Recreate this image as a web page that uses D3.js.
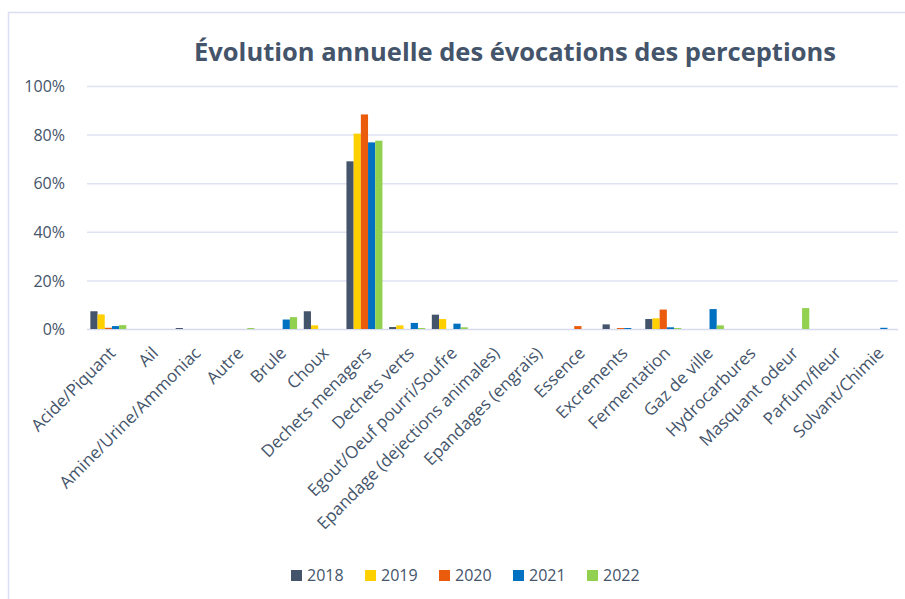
<!DOCTYPE html>
<html>
<head>
<meta charset="utf-8">
<script src="https://cdn.jsdelivr.net/npm/d3@7"></script>
<style>
  body { margin: 0; background: #fff; }
  svg { display: block; }
</style>
</head>
<body>
<div id="chart"></div>
<script>
// data
const categories = [
  'Acide/Piquant', 'Ail', 'Amine/Urine/Ammoniac', 'Autre', 'Brule', 'Choux',
  'Dechets menagers', 'Dechets verts', 'Egout/Oeuf pourri/Soufre',
  'Epandage (dejections animales)', 'Epandages (engrais)', 'Essence',
  'Excrements', 'Fermentation', 'Gaz de ville', 'Hydrocarbures',
  'Masquant odeur', 'Parfum/fleur', 'Solvant/Chimie'
];
const years = ['2018', '2019', '2020', '2021', '2022'];
const colors = ['#44546a', '#ffd000', '#ea5b0c', '#0070c0', '#92d050'];

// values in %, one array per year, same order as categories
const v2018 = [7.3, 0, 0.4, 0, 0, 7.3, 69.0, 0.8, 5.9, 0, 0, 0, 1.9, 4.1, 0, 0, 0, 0, 0];
const v2019 = [6.0, 0, 0, 0, 0, 1.5, 80.4, 1.5, 4.1, 0, 0, 0, 0, 4.4, 0, 0, 0, 0, 0];
const v2020 = [0.5, 0, 0, 0, 0, 0, 88.3, 0, 0, 0, 0, 1.2, 0.4, 8.0, 0, 0, 0, 0, 0];
const v2021 = [1.2, 0, 0, 0, 3.9, 0, 76.8, 2.5, 2.2, 0, 0, 0, 0.4, 0.7, 8.2, 0, 0, 0, 0.5];
const v2022 = [1.6, 0, 0, 0.4, 4.9, 0, 77.5, 0.4, 0.7, 0, 0, 0, 0, 0.4, 1.5, 0, 8.6, 0, 0];
const series = [v2018, v2019, v2020, v2021, v2022];

const yTicks = [0, 20, 40, 60, 80, 100];

const W = 905, H = 599;
const margin = { top: 86, right: 7, bottom: 270, left: 87 };
const textColor = '#44546a';
const font = '"Open Sans", "Noto Sans", sans-serif';

const svg = d3.select('#chart').append('svg')
  .attr('width', W)
  .attr('height', H)
  .attr('font-family', font);

// frame
svg.append('rect')
  .attr('x', 8.5).attr('y', 12.5)
  .attr('width', W + 10).attr('height', H + 10)
  .attr('fill', 'none')
  .attr('stroke', '#dcdff2')
  .attr('stroke-width', 1.5);

const x = d3.scaleBand()
  .domain(categories)
  .range([margin.left, W - margin.right])
  .paddingInner(0.157)
  .paddingOuter(0.0785);

const x1 = d3.scaleBand()
  .domain(years)
  .range([0, x.bandwidth()]);

const y = d3.scaleLinear()
  .domain([0, 100])
  .range([H - margin.bottom, margin.top]);

// gridlines
svg.append('g')
  .selectAll('line')
  .data(yTicks)
  .join('line')
  .attr('x1', margin.left)
  .attr('x2', W - margin.right)
  .attr('y1', d => y(d) + 0.5)
  .attr('y2', d => y(d) + 0.5)
  .attr('stroke', (d) => d === 0 ? '#d6daec' : '#dfe2f3')
  .attr('stroke-width', 1.5);

// y axis labels
const yAxis = svg.append('g')
  .attr('transform', `translate(${margin.left - 19},0)`)
  .call(d3.axisLeft(y).tickValues(yTicks).tickFormat(d => d + '%').tickSize(0))
  .attr('font-family', font);
yAxis.select('.domain').remove();
yAxis.selectAll('text')
  .attr('fill', textColor)
  .attr('font-size', 16)
  .attr('dy', '0.35em');

// bars
const groups = svg.append('g')
  .selectAll('g')
  .data(series)
  .join('g')
  .attr('fill', (d, i) => colors[i]);

groups.selectAll('rect')
  .data((d, i) => d.map((v, j) => ({ cat: categories[j], year: years[i], v })))
  .join('rect')
  .attr('x', d => x(d.cat) + x1(d.year))
  .attr('y', d => y(d.v))
  .attr('width', x1.bandwidth())
  .attr('height', d => y(0) - y(d.v));

// x axis labels
const xAxis = svg.append('g')
  .attr('transform', `translate(0,${y(0) + 11})`)
  .call(d3.axisBottom(x).tickSize(0))
  .attr('font-family', font);
xAxis.select('.domain').remove();
xAxis.selectAll('text')
  .attr('fill', textColor)
  .attr('font-size', 17)
  .attr('text-anchor', 'end')
  .attr('dy', '1em')
  .attr('transform', 'translate(-6,0) rotate(-45)');

// title
svg.append('text')
  .attr('x', 515)
  .attr('y', 61)
  .attr('text-anchor', 'middle')
  .attr('font-size', 25.5)
  .attr('font-weight', 'bold')
  .attr('fill', textColor)
  .text('Évolution annuelle des évocations des perceptions');

// legend
const legend = svg.append('g')
  .selectAll('g')
  .data(years)
  .join('g')
  .attr('transform', (d, i) => `translate(${291 + i * 74},575)`);

legend.append('rect')
  .attr('x', 0).attr('y', -5)
  .attr('width', 11).attr('height', 11)
  .attr('fill', (d, i) => colors[i]);

legend.append('text')
  .attr('x', 16)
  .attr('y', 0)
  .attr('dy', '0.36em')
  .attr('font-size', 16)
  .attr('fill', textColor)
  .text(d => d);
</script>
</body>
</html>
